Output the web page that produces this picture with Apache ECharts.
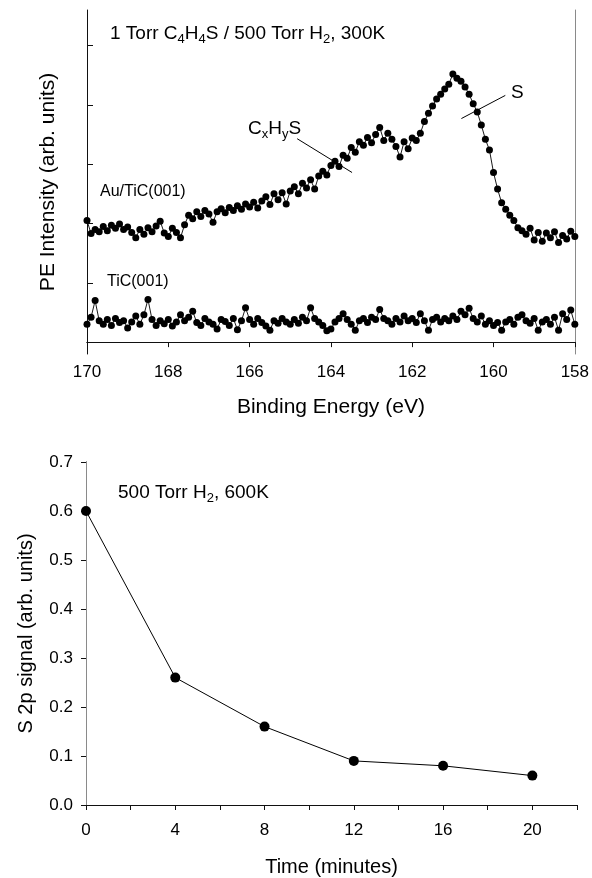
<!DOCTYPE html>
<html><head><meta charset="utf-8">
<script src="https://cdn.jsdelivr.net/npm/echarts@6/dist/echarts.min.js"></script>
<style>html,body{margin:0;padding:0;background:#fff}#c{width:592px;height:878px}</style>
</head><body><div id="c"></div>
<script>
// ---- Top panel: S 2p spectra (binding energy, eV) ----
const energies = [
170.0,169.9,169.8,169.7,169.6,169.5,169.4,169.3,169.2,169.1,
169.0,168.9,168.8,168.7,168.6,168.5,168.4,168.3,168.2,168.1,
168.0,167.9,167.8,167.7,167.6,167.5,167.4,167.3,167.2,167.1,
167.0,166.9,166.8,166.7,166.6,166.5,166.4,166.3,166.2,166.1,
166.0,165.9,165.8,165.7,165.6,165.5,165.4,165.3,165.2,165.1,
165.0,164.9,164.8,164.7,164.6,164.5,164.4,164.3,164.2,164.1,
164.0,163.9,163.8,163.7,163.6,163.5,163.4,163.3,163.2,163.1,
163.0,162.9,162.8,162.7,162.6,162.5,162.4,162.3,162.2,162.1,
162.0,161.9,161.8,161.7,161.6,161.5,161.4,161.3,161.2,161.1,
161.0,160.9,160.8,160.7,160.6,160.5,160.4,160.3,160.2,160.1,
160.0,159.9,159.8,159.7,159.6,159.5,159.4,159.3,159.2,159.1,
159.0,158.9,158.8,158.7,158.6,158.5,158.4,158.3,158.2,158.1,
158.0];
const auTiC = [
2.05,1.83,1.90,1.86,1.95,1.88,1.97,1.92,1.99,1.90,
1.94,1.85,1.76,1.90,1.82,1.93,1.86,1.96,2.04,1.84,
1.78,1.92,1.85,1.76,1.98,2.14,2.08,2.20,2.12,2.22,
2.16,2.02,2.20,2.25,2.18,2.27,2.22,2.30,2.24,2.33,
2.28,2.36,2.26,2.38,2.45,2.32,2.50,2.40,2.52,2.33,
2.55,2.62,2.50,2.68,2.60,2.74,2.58,2.80,2.88,2.82,
2.98,3.05,2.96,3.15,3.10,3.28,3.20,3.38,3.32,3.45,
3.36,3.50,3.62,3.40,3.52,3.42,3.30,3.12,3.38,3.26,
3.44,3.40,3.52,3.72,3.86,3.98,4.10,4.18,4.27,4.35,
4.52,4.45,4.40,4.30,4.18,4.02,3.88,3.66,3.42,3.24,
2.86,2.58,2.35,2.24,2.14,2.05,1.93,1.88,1.82,1.92,
1.72,1.85,1.70,1.84,1.76,1.86,1.68,1.80,1.74,1.87,
1.78];
const tiC = [
0.30,0.42,0.70,0.36,0.30,0.38,0.28,0.40,0.33,0.36,
0.24,0.34,0.44,0.30,0.46,0.72,0.38,0.28,0.36,0.31,
0.38,0.27,0.34,0.46,0.36,0.42,0.52,0.33,0.28,0.40,
0.34,0.30,0.22,0.38,0.35,0.28,0.40,0.21,0.36,0.58,
0.38,0.30,0.40,0.33,0.27,0.20,0.36,0.32,0.40,0.34,
0.30,0.38,0.32,0.42,0.36,0.58,0.40,0.34,0.28,0.19,
0.22,0.34,0.40,0.48,0.38,0.30,0.20,0.36,0.40,0.33,
0.42,0.38,0.55,0.40,0.36,0.30,0.40,0.34,0.44,0.36,
0.40,0.33,0.48,0.36,0.20,0.38,0.42,0.34,0.40,0.36,
0.44,0.38,0.52,0.46,0.57,0.40,0.34,0.44,0.30,0.36,
0.28,0.33,0.20,0.34,0.38,0.30,0.42,0.46,0.36,0.32,
0.40,0.20,0.34,0.38,0.30,0.42,0.20,0.48,0.38,0.54,
0.30];
const intensityTicks = [0, 1, 2, 3, 4, 5];
const leaderS = [[160.79, 3.77], [159.71, 4.16]];
const leaderCxHyS = [[164.83, 3.43], [163.48, 2.86]];

// ---- Bottom panel: S 2p signal vs time ----
const timeMin = [0, 4, 8, 12, 16, 20];
const s2pSignal = [0.60, 0.26, 0.16, 0.09, 0.08, 0.06];
const topBorderTicks = [2, 6];

const FONT = "'Liberation Sans', Arial, sans-serif";
const chart = echarts.init(document.getElementById('c'), null, {renderer: 'canvas'});

const pair = (xs, ys) => xs.map((x, i) => [x, ys[i]]);
const black = '#111';
const gray = '#8a8a8a';
const subRich = {
  n: {fontSize: 19, lineHeight: 24, fontFamily: FONT, fill: '#000'},
  s: {fontSize: 13, lineHeight: 12, verticalAlign: 'bottom', fontFamily: FONT, fill: '#000'}
};

const option = {
  animation: false,
  backgroundColor: '#fff',
  textStyle: {fontFamily: FONT, color: '#000'},
  grid: [
    {left: 87, right: 15, top: 10, height: 344},
    {left: 86, right: 15, top: 462, height: 344}
  ],
  xAxis: [
    {gridIndex: 0, type: 'value', min: 158, max: 170, interval: 2, inverse: true,
     name: 'Binding Energy (eV)', nameLocation: 'middle', nameGap: 43,
     nameTextStyle: {fontSize: 21, fontFamily: FONT, color: '#000'},
     axisLine: {lineStyle: {color: black, width: 1}},
     axisTick: {inside: false, length: 5, lineStyle: {color: black}},
     axisLabel: {fontSize: 17, fontFamily: FONT, color: '#000', margin: 10},
     splitLine: {show: false}},
    {gridIndex: 0, type: 'value', min: 158, max: 170, inverse: true, position: 'top',
     axisLine: {lineStyle: {color: black, width: 1}}, axisTick: {show: false},
     axisLabel: {show: false}, splitLine: {show: false}},
    {gridIndex: 1, type: 'value', min: 0, max: 22, interval: 2,
     name: 'Time (minutes)', nameLocation: 'middle', nameGap: 52,
     nameTextStyle: {fontSize: 20, fontFamily: FONT, color: '#000'},
     axisLine: {lineStyle: {color: black, width: 1}},
     axisTick: {inside: false, length: 5, lineStyle: {color: black}},
     axisLabel: {fontSize: 17, fontFamily: FONT, color: '#000', margin: 17,
       formatter: v => (v % 4 === 0 && v <= 20) ? String(v) : ''},
     splitLine: {show: false}},
    {gridIndex: 1, type: 'value', min: 0, max: 22, position: 'top',
     axisLine: {lineStyle: {color: black, width: 1}},
     axisTick: {show: true, inside: true, length: 5, customValues: topBorderTicks, lineStyle: {color: black}},
     axisLabel: {show: false}, splitLine: {show: false}}
  ],
  yAxis: [
    {gridIndex: 0, type: 'value', min: -0.2, max: 5.6,
     name: 'PE Intensity (arb. units)', nameLocation: 'middle', nameGap: 28,
     nameTextStyle: {fontSize: 21, fontFamily: FONT, color: '#000'},
     axisLine: {lineStyle: {color: black, width: 1}},
     axisTick: {inside: true, length: 6, customValues: intensityTicks, lineStyle: {color: black}},
     axisLabel: {show: false}, splitLine: {show: false}},
    {gridIndex: 0, type: 'value', min: -0.2, max: 5.6, position: 'right',
     axisLine: {lineStyle: {color: gray, width: 1}}, axisTick: {show: false},
     axisLabel: {show: false}, splitLine: {show: false}},
    {gridIndex: 1, type: 'value', min: 0, max: 0.7, interval: 0.1,
     name: 'S 2p signal (arb. units)', nameLocation: 'middle', nameGap: 50,
     nameTextStyle: {fontSize: 20, fontFamily: FONT, color: '#000'},
     axisLine: {lineStyle: {color: black, width: 1}},
     axisTick: {inside: false, length: 5, lineStyle: {color: black}},
     axisLabel: {fontSize: 17, fontFamily: FONT, color: '#000', margin: 13,
       formatter: v => v.toFixed(1)},
     splitLine: {show: false}},
    {gridIndex: 1, type: 'value', min: 0, max: 0.7, position: 'right',
     axisLine: {lineStyle: {color: gray, width: 1}}, axisTick: {show: false},
     axisLabel: {show: false}, splitLine: {show: false}}
  ],
  series: [
    {type: 'line', name: 'Au/TiC(001)', xAxisIndex: 0, yAxisIndex: 0,
     data: pair(energies, auTiC), symbol: 'circle', symbolSize: 7, showAllSymbol: true,
     clip: false, lineStyle: {color: '#000', width: 0.9}, itemStyle: {color: '#000'},
     markLine: {silent: true, symbol: 'none', label: {show: false},
       lineStyle: {color: '#000', width: 1, type: 'solid'},
       data: [
         [{coord: leaderS[0]}, {coord: leaderS[1]}],
         [{coord: leaderCxHyS[0]}, {coord: leaderCxHyS[1]}]
       ]}},
    {type: 'line', name: 'TiC(001)', xAxisIndex: 0, yAxisIndex: 0,
     data: pair(energies, tiC), symbol: 'circle', symbolSize: 7, showAllSymbol: true,
     clip: false, lineStyle: {color: '#000', width: 0.9}, itemStyle: {color: '#000'}},
    {type: 'line', name: 'S 2p', xAxisIndex: 2, yAxisIndex: 2,
     data: pair(timeMin, s2pSignal), symbol: 'circle', symbolSize: 10,
     clip: false, lineStyle: {color: '#000', width: 1}, itemStyle: {color: '#000'}}
  ],
  graphic: [
    {type: 'text', left: 110, top: 24, style: {
      text: '{n|1 Torr C}{s|4}{n|H}{s|4}{n|S / 500 Torr H}{s|2}{n|, 300K}', rich: subRich}},
    {type: 'text', left: 248, top: 119, style: {
      text: '{n|C}{s|x}{n|H}{s|y}{n|S}', rich: subRich}},
    {type: 'text', left: 511, top: 83, style: {text: 'S', fontSize: 19, fontFamily: FONT, fill: '#000'}},
    {type: 'text', left: 100, top: 184, style: {text: 'Au/TiC(001)', fontSize: 16, fontFamily: FONT, fill: '#000'}},
    {type: 'text', left: 107, top: 274, style: {text: 'TiC(001)', fontSize: 16, fontFamily: FONT, fill: '#000'}},
    {type: 'text', left: 118, top: 483, style: {
      text: '{n|500 Torr H}{s|2}{n|, 600K}', rich: subRich}}
  ]
};
chart.setOption(option);
</script>
</body></html>
